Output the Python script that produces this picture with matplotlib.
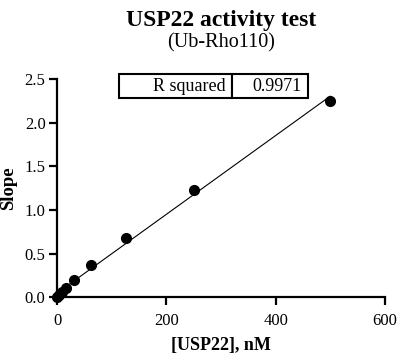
import numpy as np
import matplotlib
matplotlib.use("Agg")
import matplotlib.pyplot as plt

plt.rcParams['font.family'] = ['Liberation Serif', 'DejaVu Serif']

conc = [0, 3.9, 7.8, 15.6, 31.25, 62.5, 125, 250, 500]
slope = [0.0, 0.03, 0.06, 0.11, 0.20, 0.375, 0.68, 1.235, 2.255]
r2_label = "R squared"
r2_value = "0.9971"

fig = plt.figure(figsize=(4.05, 3.6), dpi=100)
ax = fig.add_axes([0.1415, 0.174, 0.8085, 0.606])

# linear fit line
k, b = np.polyfit(conc, slope, 1)
xf = np.array([0, max(conc)])
ax.plot(xf, k * xf + b, color='black', lw=0.8, zorder=2)
ax.plot(conc, slope, 'o', color='black', ms=7, zorder=3, clip_on=False)

ax.set_xlim(0, 600)
ax.set_ylim(0, 2.5)
ax.set_xticks([0, 200, 400, 600])
ax.set_yticks([0, 0.5, 1.0, 1.5, 2.0, 2.5])
ax.set_yticklabels(['0.0', '0.5', '1.0', '1.5', '2.0', '2.5'])
for s in ['top', 'right']:
    ax.spines[s].set_visible(False)
for s in ['left', 'bottom']:
    ax.spines[s].set_linewidth(1.6)
ax.tick_params(direction='out', length=5.5, width=1.6, labelsize=12)
ax.tick_params(axis='x', pad=5.5)
ax.tick_params(axis='y', pad=3)
ax.set_xlabel('[USP22], nM', fontsize=13, fontweight='bold', labelpad=6)
ax.set_ylabel('Slope', fontsize=13.5, fontweight='bold', labelpad=5)

fig.text(0.547, 0.928, 'USP22 activity test', ha='center', va='baseline',
         fontsize=17, fontweight='bold')
fig.text(0.547, 0.867, '(Ub-Rho110)', ha='center', va='baseline', fontsize=14.5)

# R squared box
tbl = ax.table(cellText=[[r2_label, r2_value]], colWidths=[0.6, 0.4],
               bbox=[(119 - 57.3) / 327.4, (297.3 - 97.7) / 218.3,
                     (308 - 119) / 327.4, 23.7 / 218.3])
tbl.auto_set_font_size(False)
for (r, c), cell in tbl.get_celld().items():
    cell.set_linewidth(1.5)
    cell.set_text_props(fontsize=13)
    cell.set_facecolor('white')
    if c == 0:
        cell._loc = 'right'
        cell.PAD = 0.06
    else:
        cell._loc = 'left'
        cell.PAD = 0.08

fig.savefig('out.png', dpi=100)
